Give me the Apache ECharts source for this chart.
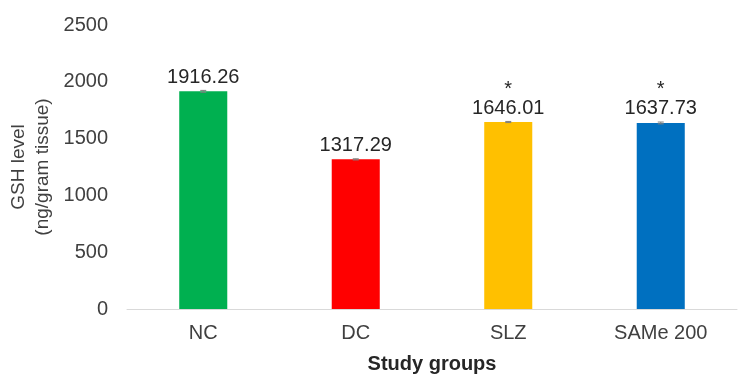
<!DOCTYPE html>
<html>
<head>
<meta charset="utf-8">
<script src="https://cdn.jsdelivr.net/npm/echarts@6/dist/echarts.min.js"></script>
<style>
    html, body { margin: 0; padding: 0; background: #fff; }
    #chart { width: 750px; height: 380px; }
</style>
</head>
<body>
<div id="chart"></div>
<script>
    // 数据
    var groups = ['NC', 'DC', 'SLZ', 'SAMe 200'];
    var gshValues = [1916.26, 1317.29, 1646.01, 1637.73];
    var gshErrors = [8, 5, 5, 8];
    var starMarks = ['', '', '*', '*'];
    var barColors = ['#00B050', '#FF0000', '#FFC000', '#0070C0'];
    var yTicks = [0, 500, 1000, 1500, 2000, 2500];

    var font = 'Liberation Sans, Arial, sans-serif';
    var myChart = echarts.init(document.getElementById('chart'));

    var option = {
        animation: false,
        textStyle: {fontFamily: font},
        grid: {left: 127, right: 13, top: 25, bottom: 71, outerBoundsMode: 'none', containLabel: false},
        xAxis: {
            type: 'category',
            data: groups,
            name: 'Study groups',
            nameLocation: 'middle',
            nameGap: 45,
            nameTextStyle: {fontSize: 20, fontWeight: 'bold', color: '#262626', fontFamily: font},
            axisLine: {lineStyle: {color: '#d9d9d9'}},
            axisTick: {show: false},
            axisLabel: {fontSize: 20, color: '#404040', margin: 14, fontFamily: font}
        },
        yAxis: {
            type: 'value',
            min: yTicks[0],
            max: yTicks[yTicks.length - 1],
            interval: 500,
            name: 'GSH level\n(ng/gram tissue)',
            nameLocation: 'middle',
            nameGap: 72,
            nameMoveOverlap: false,
            nameTextStyle: {fontSize: 19, color: '#404040', lineHeight: 24, fontFamily: font},
            axisLine: {show: false},
            axisTick: {show: false},
            splitLine: {show: false},
            axisLabel: {
                fontSize: 20, color: '#404040', margin: 19, fontFamily: font,
                formatter: function (v) { return String(v); }
            }
        },
        series: [
            {
                type: 'bar',
                barWidth: '31.5%',
                data: gshValues.map(function (v, i) {
                    return {value: v, itemStyle: {color: barColors[i]}};
                }),
                label: {
                    show: true,
                    position: 'top',
                    distance: 3,
                    formatter: function (p) {
                        var s = starMarks[p.dataIndex];
                        return (s ? '{s|' + s + '}\n' : '') + '{v|' + p.value.toFixed(2) + '}';
                    },
                    rich: {
                        s: {fontSize: 20, color: '#262626', lineHeight: 16, fontFamily: font},
                        v: {fontSize: 20, color: '#262626', lineHeight: 22, fontFamily: font}
                    }
                },
                z: 2
            },
            {
                type: 'custom',
                z: 3,
                data: gshValues.map(function (v, i) {
                    return [i, v - gshErrors[i], v + gshErrors[i]];
                }),
                renderItem: function (params, api) {
                    var lo = api.coord([api.value(0), api.value(1)]);
                    var hi = api.coord([api.value(0), api.value(2)]);
                    var w = 3;
                    var st = {stroke: '#7f7f7f', lineWidth: 1};
                    return {
                        type: 'group',
                        children: [
                            {type: 'line', shape: {x1: hi[0], y1: hi[1], x2: lo[0], y2: lo[1]}, style: st},
                            {type: 'line', shape: {x1: hi[0] - w, y1: hi[1], x2: hi[0] + w, y2: hi[1]}, style: st},
                            {type: 'line', shape: {x1: lo[0] - w, y1: lo[1], x2: lo[0] + w, y2: lo[1]}, style: st}
                        ]
                    };
                }
            }
        ]
    };
    myChart.setOption(option);
</script>
</body>
</html>
